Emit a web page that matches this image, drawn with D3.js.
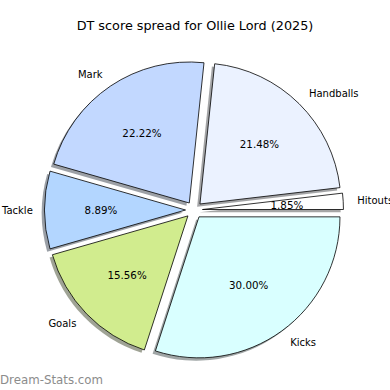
<!DOCTYPE html>
<html>
<head>
<meta charset="utf-8">
<script src="https://cdn.jsdelivr.net/npm/d3@7"></script>
<style>
  html, body { margin: 0; padding: 0; background: #fff; }
  svg { display: block; font-family: "DejaVu Sans", sans-serif; }
</style>
</head>
<body>
<svg id="chart" width="390" height="390"></svg>
<script>
const title = "DT score spread for Ollie Lord (2025)";
const categories = ["Hitouts", "Handballs", "Mark", "Tackle", "Goals", "Kicks"];
const values = [5, 58, 60, 24, 42, 81];
const colors = ["#ffffff", "#ebf2ff", "#c2d8ff", "#b3d6ff", "#d1ec8e", "#d9ffff"];
const watermark = "Dream-Stats.com";

const svg = d3.select("#chart");
const cx = 194, cy = 210, R = 141;
const explode = 0.06 * R;
const total = d3.sum(values);

const color = d3.scaleOrdinal().domain(categories).range(colors);

const pie = d3.pie().sort(null)
  .startAngle(Math.PI / 2)
  .endAngle(Math.PI / 2 - 2 * Math.PI);
const arcs = pie(values).map((d, i) => Object.assign(d, { name: categories[i] }));
const arc = d3.arc().innerRadius(0).outerRadius(R);

svg.append("text")
  .attr("x", 195).attr("y", 30)
  .attr("text-anchor", "middle")
  .attr("font-size", 12.8).attr("fill", "#000")
  .text(title);

const g = svg.append("g").attr("transform", `translate(${cx},${cy})`);

function off(d, dist) {
  const m = (d.startAngle + d.endAngle) / 2;
  return [Math.sin(m) * dist, -Math.cos(m) * dist];
}

// shadows
arcs.forEach(d => {
  const [ox, oy] = off(d, explode);
  const c = d3.rgb(color(d.name));
  g.append("path")
    .attr("d", arc(d))
    .attr("transform", `translate(${ox - 2.8},${oy + 2.8})`)
    .attr("fill", d3.rgb(c.r * 0.3, c.g * 0.3, c.b * 0.3))
    .attr("fill-opacity", 0.5);
});

// wedges
arcs.forEach(d => {
  const [ox, oy] = off(d, explode);
  g.append("path")
    .attr("d", arc(d))
    .attr("transform", `translate(${ox},${oy})`)
    .attr("fill", color(d.name))
    .attr("stroke", "#000")
    .attr("stroke-width", 0.8)
    .attr("stroke-linejoin", "round");
});

// labels
arcs.forEach(d => {
  const [lx, ly] = off(d, explode + 1.1 * R);
  const t = g.append("text")
    .attr("x", lx).attr("y", ly)
    .attr("text-anchor", lx > 0 ? "start" : "end")
    .attr("dominant-baseline", "central")
    .attr("font-size", 10).attr("fill", "#000")
    .text(d.name);
  // keep left-side labels inside the page
  const bb = t.node().getBBox();
  if (cx + bb.x < 1) t.attr("x", lx + (1 - (cx + bb.x)));
  const [px, py] = off(d, explode + 0.6 * R);
  g.append("text")
    .attr("x", px).attr("y", py)
    .attr("text-anchor", "middle")
    .attr("dominant-baseline", "central")
    .attr("font-size", 10.3).attr("fill", "#000")
    .text((d.value / total * 100).toFixed(2) + "%");
});

svg.append("text")
  .attr("x", 0).attr("y", 384)
  .attr("font-size", 11.8).attr("fill", "#8c8c8c")
  .text(watermark);
</script>
</body>
</html>
